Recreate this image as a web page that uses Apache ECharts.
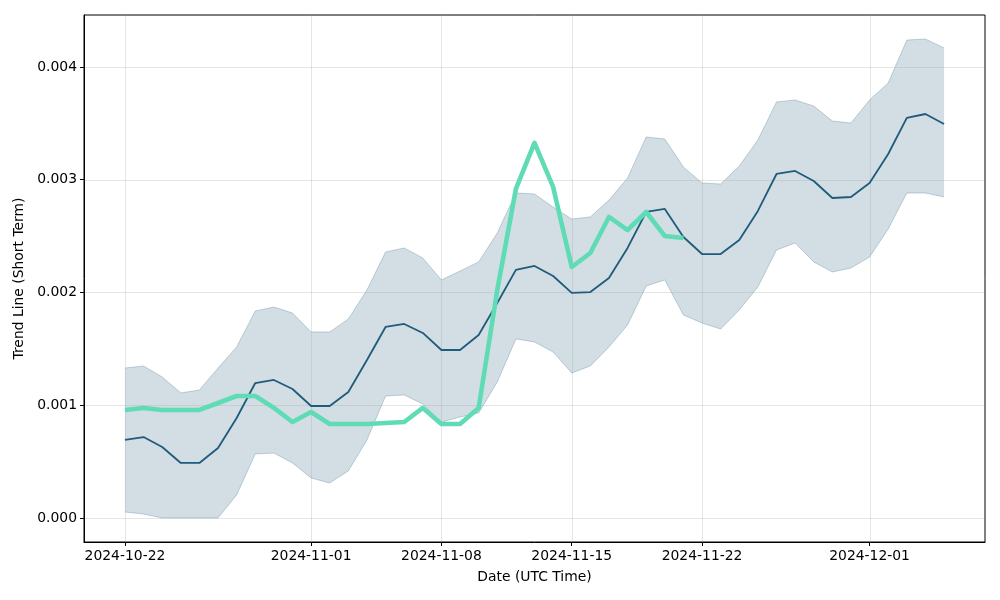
<!DOCTYPE html>
<html>
<head>
<meta charset="utf-8">
<script src="https://cdn.jsdelivr.net/npm/echarts@6/dist/echarts.min.js"></script>
<style>html,body{margin:0;padding:0;background:#fff}#c{width:1000px;height:600px}</style>
</head>
<body>
<div id="c"></div>
<script>
const dates = ['2024-10-22','2024-10-23','2024-10-24','2024-10-25','2024-10-26','2024-10-27','2024-10-28','2024-10-29','2024-10-30','2024-10-31',
'2024-11-01','2024-11-02','2024-11-03','2024-11-04','2024-11-05','2024-11-06','2024-11-07','2024-11-08','2024-11-09','2024-11-10',
'2024-11-11','2024-11-12','2024-11-13','2024-11-14','2024-11-15','2024-11-16','2024-11-17','2024-11-18','2024-11-19','2024-11-20',
'2024-11-21','2024-11-22','2024-11-23','2024-11-24','2024-11-25','2024-11-26','2024-11-27','2024-11-28','2024-11-29','2024-11-30',
'2024-12-01','2024-12-02','2024-12-03','2024-12-04','2024-12-05'];

const trend = [0.000692,0.000718,0.000630,0.000488,0.000488,0.000621,0.000887,0.001197,0.001224,0.001144,
0.000993,0.000993,0.001118,0.001401,0.001694,0.001721,0.001641,0.001490,0.001490,0.001623,
0.001907,0.002200,0.002235,0.002146,0.001996,0.002004,0.002129,0.002395,0.002714,0.002741,
0.002492,0.002341,0.002341,0.002466,0.002723,0.003051,0.003078,0.002989,0.002838,0.002847,
0.002971,0.003228,0.003548,0.003583,0.003494];

const upper = [0.001330,0.001348,0.001251,0.001109,0.001135,0.001330,0.001517,0.001836,0.001871,0.001818,
0.001650,0.001650,0.001765,0.002022,0.002359,0.002395,0.002306,0.002111,0.002191,0.002271,
0.002528,0.002882,0.002874,0.002758,0.002652,0.002670,0.002820,0.003016,0.003379,0.003361,
0.003113,0.002971,0.002962,0.003122,0.003353,0.003690,0.003707,0.003654,0.003521,0.003503,
0.003707,0.003858,0.004239,0.004248,0.004169];

const lower = [0.000053,0.000035,0.000000,0.000000,0.000000,0.000000,0.000204,0.000568,0.000576,0.000488,
0.000355,0.000310,0.000417,0.000692,0.001082,0.001091,0.001011,0.000851,0.000896,0.000931,
0.001206,0.001588,0.001561,0.001472,0.001286,0.001348,0.001517,0.001712,0.002058,0.002111,
0.001800,0.001729,0.001676,0.001845,0.002049,0.002377,0.002439,0.002271,0.002182,0.002217,
0.002315,0.002563,0.002882,0.002882,0.002847];

const price = [0.000958,0.000976,0.000958,0.000958,0.000958,0.001020,0.001082,0.001082,0.000976,0.000851,
0.000940,0.000834,0.000834,0.000834,0.000843,0.000851,0.000976,0.000834,0.000834,0.000976,
0.002022,0.002918,0.003326,0.002936,0.002226,0.002350,0.002670,0.002554,0.002714,0.002501,
0.002483];

const xTickLabels = ['2024-10-22','2024-11-01','2024-11-08','2024-11-15','2024-11-22','2024-12-01'];
const yTicks = [0, 0.001, 0.002, 0.003, 0.004];

const ts = d => { const p = d.split('-').map(Number); return Date.UTC(p[0], p[1]-1, p[2]); };
const DAY = 86400000;
const xs = dates.map(ts);
const xMin = xs[0] - 2.2*DAY, xMax = xs[xs.length-1] + 2.2*DAY;
const yMin = -0.000213, yMax = 0.004461;
const xTickVals = xTickLabels.map(ts);

const font = 'DejaVu Sans';
const fs = 13.9;
const lineColor = '#1f5b7a';
const bandEdge = 'rgba(31,91,122,0.25)';

const gridItems = xTickVals.map(v=>[0, v]).concat(yTicks.map(v=>[1, v]));

const chart = echarts.init(document.getElementById('c'), null, {renderer:'canvas'});
chart.setOption({
  animation: false,
  backgroundColor: '#fff',
  grid: {left:84, right:15, top:15, bottom:58, show:true, borderColor:'#000', borderWidth:1, backgroundColor:'transparent', containLabel:false, outerBoundsMode:'none'},
  xAxis: {
    type:'value', min:xMin, max:xMax, scale:true,
    name:'Date (UTC Time)', nameLocation:'middle', nameGap:28,
    nameTextStyle:{fontFamily:font, fontSize:fs, color:'#000'},
    axisLine:{show:true, onZero:false, lineStyle:{color:'#000', width:1}},
    axisTick:{show:true, length:4, lineStyle:{color:'#000'}, customValues:xTickVals},
    axisLabel:{fontFamily:font, fontSize:fs, color:'#000', margin:7, customValues:xTickVals,
      formatter: v => new Date(v).toISOString().slice(0,10)},
    splitLine:{show:false}, minorTick:{show:false}
  },
  yAxis: {
    type:'value', min:yMin, max:yMax,
    name:'Trend Line (Short Term)', nameLocation:'middle', nameGap:53, nameRotate:90,
    nameTextStyle:{fontFamily:font, fontSize:fs, color:'#000'},
    axisLine:{show:true, onZero:false, lineStyle:{color:'#000', width:1}},
    axisTick:{show:true, length:4, lineStyle:{color:'#000'}, customValues:yTicks},
    axisLabel:{fontFamily:font, fontSize:fs, color:'#000', margin:7, customValues:yTicks,
      formatter: v => Number(v).toFixed(3)},
    splitLine:{show:false}
  },
  series: [
    {type:'custom', name:'band', z:1, silent:true, data:[0],
      renderItem: (params, api) => {
        const top = xs.map((x,i)=>api.coord([x, upper[i]]));
        const bot = xs.map((x,i)=>api.coord([x, lower[i]])).reverse();
        return {type:'group', children:[
          {type:'polygon', shape:{points: top.concat(bot)}, style:{fill:'rgba(31,91,122,0.2)'}},
          {type:'polyline', shape:{points: top}, style:{stroke:bandEdge, lineWidth:1, fill:null}},
          {type:'polyline', shape:{points: bot}, style:{stroke:bandEdge, lineWidth:1, fill:null}}
        ]};
      }},
    {type:'custom', name:'grid', z:2, silent:true, data:gridItems,
      renderItem: (params, api) => {
        const kind = api.value(0), v = api.value(1);
        let p1, p2;
        if (kind === 0) { p1 = api.coord([v, yMin]); p2 = api.coord([v, yMax]); }
        else { p1 = api.coord([xMin, v]); p2 = api.coord([xMax, v]); }
        return {type:'line', shape:{x1:Math.round(p1[0])+0.5, y1:Math.round(p1[1])+0.5, x2:Math.round(p2[0])+0.5, y2:Math.round(p2[1])+0.5},
          style:{stroke:'rgba(160,160,160,0.28)', lineWidth:1}};
      }},
    {type:'line', name:'trend', z:3, symbol:'none', silent:true,
      data: xs.map((x,i)=>[x, trend[i]]),
      lineStyle:{color:lineColor, width:1.8}},
    {type:'line', name:'price', z:4, symbol:'none', silent:true,
      data: price.map((v,i)=>[xs[i], v]),
      lineStyle:{color:'#5fdcb5', width:4.6, join:'round'}}
  ]
});
</script>
</body>
</html>
